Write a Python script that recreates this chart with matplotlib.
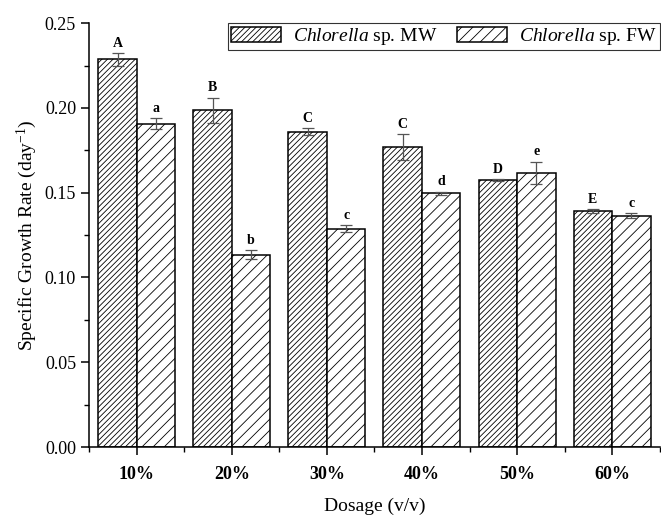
import matplotlib

matplotlib.use("Agg")
import matplotlib.pyplot as plt
import numpy as np
from matplotlib.ticker import MultipleLocator, FormatStrFormatter

plt.rcParams["font.family"] = ["Liberation Serif", "DejaVu Serif"]
plt.rcParams["mathtext.fontset"] = "custom"
plt.rcParams["mathtext.rm"] = "Liberation Serif"
plt.rcParams["mathtext.it"] = "Liberation Serif:italic"
plt.rcParams["hatch.linewidth"] = 0.6
plt.rcParams["hatch.color"] = "#6a6a6a"

dosages = ["10%", "20%", "30%", "40%", "50%", "60%"]
mw_rate = [0.2286, 0.1987, 0.1860, 0.1770, 0.1574, 0.1391]
mw_err = [0.0036, 0.0073, 0.0020, 0.0075, 0.0006, 0.0010]
fw_rate = [0.1908, 0.1135, 0.1287, 0.1496, 0.1617, 0.1364]
fw_err = [0.0030, 0.0025, 0.0020, 0.0010, 0.0065, 0.0015]
mw_letters = ["A", "B", "C", "C", "D", "E"]
fw_letters = ["a", "b", "c", "d", "e", "c"]

fig = plt.figure(figsize=(6.61, 5.15), dpi=100)
ax = fig.add_axes([0.135, 0.132, 0.863, 0.823])

x = np.arange(len(dosages))
w = 0.405
err_kw = dict(ecolor="#555555", elinewidth=0.9, capsize=4, capthick=0.9)
ax.bar(x - w / 2, mw_rate, w, yerr=mw_err, color="white", edgecolor="black",
       linewidth=1.1, hatch="//////", error_kw=err_kw,
       label=r"$\mathit{Chlorella}$ sp. MW")
ax.bar(x + w / 2, fw_rate, w, yerr=fw_err, color="white", edgecolor="black",
       linewidth=1.1, hatch="///", error_kw=err_kw,
       label=r"$\mathit{Chlorella}$ sp. FW")

for xi, v, e, t in zip(x - w / 2, mw_rate, mw_err, mw_letters):
    ax.text(xi, v + e + 0.002, t, ha="center", va="bottom", fontsize=10, fontweight="bold")
for xi, v, e, t in zip(x + w / 2, fw_rate, fw_err, fw_letters):
    ax.text(xi, v + e + 0.002, t, ha="center", va="bottom", fontsize=10, fontweight="bold")

ax.set_xlim(-0.5, 5.5)
ax.set_ylim(0, 0.25)
ax.set_xticks(x)
ax.set_xticklabels(dosages, fontweight="bold")
ax.xaxis.set_minor_locator(MultipleLocator(0.5))
ax.yaxis.set_major_locator(MultipleLocator(0.05))
ax.yaxis.set_minor_locator(MultipleLocator(0.025))
ax.yaxis.set_major_formatter(FormatStrFormatter("%.2f"))
ax.tick_params(axis="both", which="major", labelsize=13, length=6, width=1.1)
ax.tick_params(axis="both", which="minor", length=3.5, width=1.0)
ax.tick_params(axis="x", which="major", pad=8)
ax.spines["top"].set_visible(False)
ax.spines["right"].set_visible(False)
ax.spines["left"].set_linewidth(1.1)
ax.spines["bottom"].set_linewidth(1.1)

ax.set_xlabel("Dosage (v/v)", fontsize=14, labelpad=10)
ax.set_ylabel("Specific Growth Rate (day$^{-1}$)", fontsize=14, labelpad=4)

leg = ax.legend(loc="upper right", bbox_to_anchor=(1.0, 1.0), ncol=2, fontsize=14,
                frameon=True, fancybox=False, edgecolor="black", handlelength=2.6,
                handleheight=0.85, columnspacing=1.0, borderpad=0.15,
                borderaxespad=0.0, handletextpad=0.6)
leg.get_frame().set_linewidth(0.8)

fig.savefig("out.png", dpi=100)
